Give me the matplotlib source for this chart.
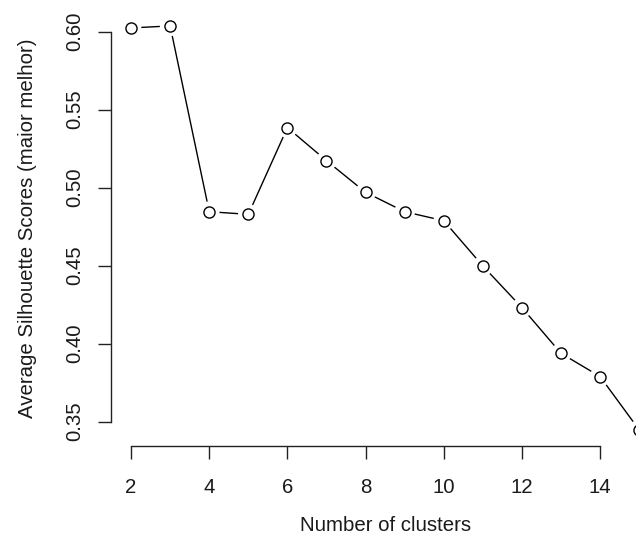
import numpy as np
import matplotlib
matplotlib.use('Agg')
import matplotlib.pyplot as plt

plt.rcParams['font.family'] = ['Liberation Sans', 'DejaVu Sans']

# Silhouette scores
n_clusters = [2, 3, 4, 5, 6, 7, 8, 9, 10, 11, 12, 13, 14, 15]
scores = [0.6024, 0.6037, 0.4846, 0.4829, 0.5385, 0.5173, 0.4970,
          0.4846, 0.4788, 0.4498, 0.4231, 0.3938, 0.3789, 0.3447]
x_ticks = [2, 4, 6, 8, 10, 12, 14]
y_ticks = [0.35, 0.40, 0.45, 0.50, 0.55, 0.60]

fig = plt.figure(figsize=(6.36, 5.45), dpi=100)
# plot region runs past the right edge, like the cropped original
ax = fig.add_axes([0.1741, 0.1815, 0.8629, 0.8006])

# R pads the data range by 4% on each side
xr = max(n_clusters) - min(n_clusters)
yr = max(scores) - min(scores)
ax.set_xlim(min(n_clusters) - 0.04 * xr, max(n_clusters) + 0.04 * xr)
ax.set_ylim(min(scores) - 0.04 * yr, max(scores) + 0.04 * yr)

# R-style type="b": segments stop short of each point
gap = 11  # pixels
pts = ax.transData.transform(np.column_stack([n_clusters, scores]))
inv = ax.transData.inverted()
for p0, p1 in zip(pts[:-1], pts[1:]):
    d = p1 - p0
    dist = np.hypot(*d)
    if dist <= 2 * gap:
        continue
    u = d / dist
    seg = inv.transform(np.array([p0 + u * gap, p1 - u * gap]))
    ax.plot(seg[:, 0], seg[:, 1], color='black', lw=1.0, zorder=1)
ax.plot(n_clusters, scores, ls='none', marker='o', ms=8.0, mfc='white', mec='black', mew=1.0, zorder=3)

for side in ['top', 'right']:
    ax.spines[side].set_visible(False)
ax.spines['left'].set_bounds(y_ticks[0], y_ticks[-1])
ax.spines['bottom'].set_bounds(x_ticks[0], x_ticks[-1])
for side in ['left', 'bottom']:
    ax.spines[side].set_linewidth(1.0)
    ax.spines[side].set_color('#222222')

ax.set_xticks(x_ticks)
ax.set_xticklabels([str(v) for v in x_ticks])
ax.set_yticks(y_ticks)
ax.set_yticklabels([f'{v:.2f}' for v in y_ticks], rotation=90, va='center', ha='right')
ax.tick_params(axis='both', direction='out', length=9.4, width=1.0, color='#222222',
               labelsize=14.7, labelcolor='#1a1a1a')
ax.tick_params(axis='x', pad=13.5)
ax.tick_params(axis='y', pad=9.6)

ax.set_xlabel('Number of clusters', fontsize=14.7, color='#1a1a1a', va='center')
ax.set_ylabel('Average Silhouette Scores (maior melhor)', fontsize=14.7, color='#1a1a1a',
              va='center', ha='center')
ax.xaxis.set_label_coords(0.5, (446 - 525) / 436.3)
ax.yaxis.set_label_coords((27 - 110.7) / 548.8, 0.5)

fig.savefig('out.png', dpi=100)
plt.close(fig)
